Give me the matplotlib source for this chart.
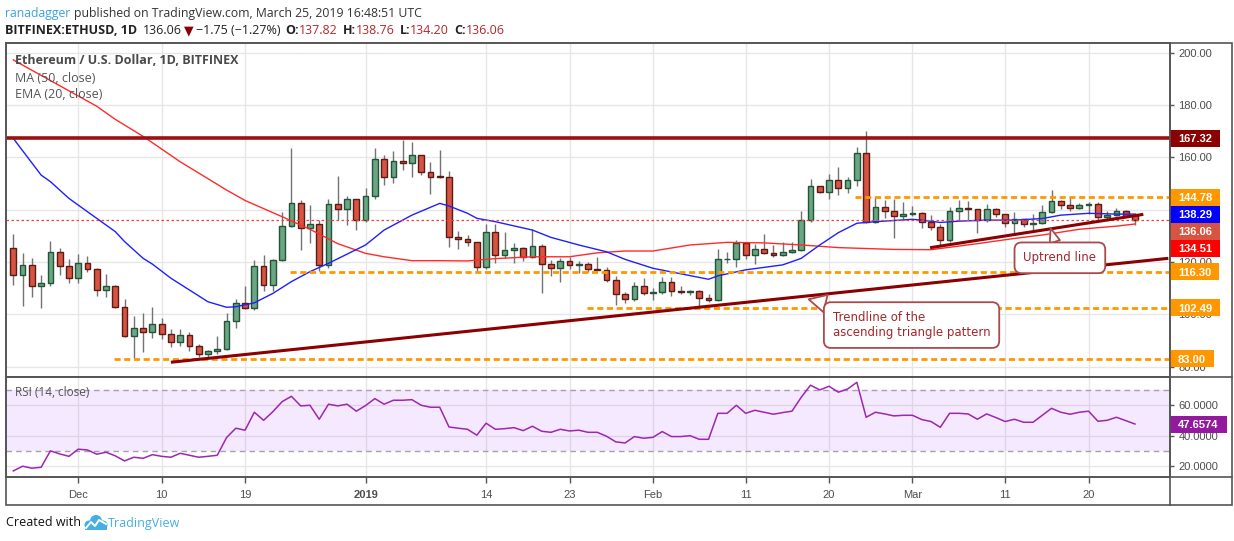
import numpy as np
import pandas as pd
import matplotlib
matplotlib.use("Agg")
import matplotlib.pyplot as plt
from matplotlib.patches import Rectangle, Circle
from matplotlib.transforms import IdentityTransform, offset_copy

plt.rcParams['font.family'] = ['Liberation Sans', 'DejaVu Sans']

# ---------------- data ----------------
start_date = "2018-11-24"
opens = [125.2, 114.9, 118.7, 110.7, 111.8, 124.0, 118.3, 113.8, 119.5, 117.2,
         109.2, 110.7, 102.7, 91.9, 94.7, 93.1, 96.2, 92.4, 89.3, 92.1,
         87.8, 85.0, 85.9, 86.7, 97.3, 104.2, 102.3, 118.3, 111.2, 120.6,
         133.6, 142.4, 132.9, 134.4, 118.7, 142.0, 140.1, 143.9, 135.9, 145.1,
         159.2, 152.3, 158.4, 157.9, 160.8, 154.5, 152.6, 152.4, 129.4, 128.7,
         127.5, 118.0, 131.3, 122.5, 124.5, 125.2, 121.8, 126.0, 119.1, 117.6,
         120.3, 118.7, 119.1, 117.2, 117.0, 113.2, 107.6, 105.8, 110.7, 108.3,
         108.7, 112.5, 108.8, 108.4, 108.8, 106.1, 105.6, 121.0, 121.3, 127.1,
         122.5, 124.8, 123.6, 122.5, 123.7, 124.5, 135.9, 148.9, 146.6, 151.2,
         148.1, 151.2, 161.5, 135.1, 141.1, 139.5, 137.7, 138.2, 138.6, 135.4,
         133.2, 128.4, 139.6, 140.5, 140.1, 136.0, 140.1, 138.2, 135.0, 136.3,
         134.4, 134.8, 139.0, 143.4, 141.6, 140.5, 141.6, 142.0, 137.1, 138.0,
         139.5, 137.82]
highs = [130.7, 123.3, 121.4, 115.0, 128.0, 125.3, 121.3, 122.9, 122.3, 117.8,
         115.4, 111.2, 105.9, 99.4, 100.7, 102.9, 98.6, 94.4, 94.4, 93.3,
         88.6, 86.3, 91.7, 100.7, 105.7, 110.8, 120.8, 122.7, 121.0, 139.1,
         163.6, 143.7, 141.8, 136.0, 144.1, 152.8, 145.2, 144.2, 148.3, 163.5,
         160.9, 162.4, 166.7, 165.8, 161.0, 158.2, 162.8, 154.8, 131.9, 130.3,
         127.6, 134.4, 134.4, 131.3, 127.1, 125.9, 132.6, 126.9, 120.6, 121.4,
         121.8, 120.3, 119.9, 121.8, 118.2, 114.8, 108.6, 112.2, 114.0, 110.2,
         114.1, 114.1, 110.9, 109.3, 109.3, 107.7, 124.8, 123.8, 128.4, 127.3,
         126.8, 130.7, 126.4, 127.5, 127.5, 139.5, 151.9, 149.1, 153.6, 156.3,
         152.4, 163.8, 170.0, 144.7, 143.7, 143.9, 142.9, 141.4, 139.2, 138.0,
         134.5, 140.9, 143.7, 143.3, 140.3, 142.2, 140.5, 138.4, 139.2, 136.5,
         138.3, 141.8, 147.5, 143.6, 144.7, 142.4, 143.0, 143.0, 139.6, 140.5,
         139.7, 138.76]
lows = [111.3, 103.3, 106.8, 102.5, 111.0, 115.0, 111.8, 111.8, 116.3, 107.1,
        106.5, 102.3, 91.5, 83.2, 85.7, 91.1, 90.6, 87.6, 87.8, 86.0,
        83.8, 83.5, 85.0, 86.5, 94.9, 102.0, 101.8, 109.0, 109.0, 120.3,
        133.3, 124.6, 127.4, 116.7, 117.6, 136.0, 134.3, 132.2, 135.1, 144.2,
        149.4, 150.0, 155.1, 152.6, 153.1, 146.0, 152.0, 125.9, 124.9, 126.1,
        116.3, 117.5, 119.5, 121.4, 119.7, 120.5, 121.6, 108.1, 114.8, 112.5,
        117.2, 115.9, 116.0, 116.9, 112.5, 103.5, 104.4, 105.0, 107.5, 105.5,
        107.7, 107.1, 107.7, 107.5, 102.9, 104.9, 105.2, 119.7, 118.2, 121.3,
        119.2, 122.9, 122.0, 122.2, 123.5, 124.3, 135.1, 146.2, 143.9, 145.5,
        146.2, 148.9, 134.9, 134.9, 136.7, 129.0, 136.0, 137.4, 132.9, 132.2,
        126.1, 127.8, 136.0, 136.0, 131.2, 135.4, 137.1, 133.5, 131.0, 133.5,
        132.0, 134.5, 138.8, 140.1, 139.6, 140.1, 138.3, 135.4, 136.0, 137.6,
        137.1, 134.20]
closes = [114.9, 118.7, 110.7, 111.8, 124.0, 118.3, 113.8, 119.5, 117.2, 109.2,
          110.7, 102.7, 91.9, 94.7, 93.1, 96.2, 92.4, 89.3, 92.1, 87.8,
          85.0, 85.9, 86.7, 97.3, 104.2, 102.3, 118.3, 111.2, 120.6, 133.6,
          142.4, 132.9, 134.4, 118.7, 142.0, 140.1, 143.9, 135.9, 145.1, 159.2,
          152.3, 158.4, 157.9, 160.8, 154.5, 152.6, 152.4, 129.4, 128.7, 127.5,
          118.0, 131.3, 122.5, 124.5, 125.2, 121.8, 126.0, 119.1, 117.6, 120.3,
          118.7, 119.1, 117.2, 117.0, 113.2, 107.6, 105.8, 110.7, 108.3, 108.7,
          112.5, 108.8, 108.4, 108.8, 106.1, 105.6, 121.0, 121.3, 127.1, 122.5,
          124.8, 123.6, 122.5, 123.7, 124.5, 135.9, 148.9, 146.6, 151.2, 148.1,
          151.2, 161.5, 135.1, 141.1, 139.5, 137.7, 138.2, 138.6, 135.4, 133.2,
          128.4, 139.6, 140.5, 140.1, 136.0, 140.1, 138.2, 135.0, 136.3, 134.4,
          134.8, 139.0, 143.4, 141.6, 140.5, 141.6, 142.0, 137.1, 138.0, 139.5,
          137.7, 136.06]

# EMA(20) and MA(50) read at sample candles (0-based candle index)
ema20_idx = [0, 3, 4, 6, 8, 11, 12, 14, 15, 17, 19, 21, 23, 24, 26, 28, 30, 32, 34,
             38, 40, 42, 43, 46, 47, 49, 50, 52, 56, 58, 61, 64, 66, 69, 75, 76, 79,
             83, 85, 87, 89, 91, 93, 97, 98, 100, 102, 105, 108, 111, 113, 116, 119, 121]
ema20_val = [167.2, 153.2, 150.7, 144.3, 139.2, 131.6, 127.8, 121.4, 119.2, 113.8,
             109.3, 104.8, 102.7, 102.9, 104.4, 108.0, 112.5, 116.3, 119.5, 126.5,
             132.2, 136.0, 137.9, 142.4, 141.4, 138.6, 136.7, 135.4, 132.2, 129.4,
             126.5, 123.9, 121.0, 117.6, 113.4, 114.7, 117.0, 118.9, 121.4, 126.5,
             131.2, 134.8, 135.4, 136.3, 136.0, 135.1, 135.6, 136.0, 136.0, 136.6,
             137.9, 138.6, 138.3, 138.29]
ma50_idx = [0, 9, 11, 14, 18, 23, 25, 29, 32, 35, 38, 40, 43, 46, 49, 52, 56, 60,
            63, 66, 69, 73, 77, 81, 85, 89, 95, 99, 104, 108, 111, 115, 119, 121]
ma50_val = [197.2, 179.5, 174.5, 168.0, 158.3, 147.5, 143.5, 137.3, 132.5, 127.0,
            123.3, 122.0, 120.5, 120.5, 120.4, 121.3, 122.0, 122.0, 123.5, 124.2,
            124.2, 126.5, 127.5, 127.3, 126.5, 125.5, 124.8, 124.7, 127.0, 129.0,
            130.3, 132.5, 133.7, 134.51]

rsi_values = [16.8, 19.9, 18.6, 19.2, 30.0, 28.0, 26.4, 31.1, 30.6, 27.8,
              29.1, 26.7, 23.4, 25.8, 25.1, 27.5, 26.4, 25.8, 28.4, 27.1,
              25.8, 26.4, 27.1, 38.7, 44.9, 43.6, 55.4, 50.1, 55.8, 62.4,
              65.9, 59.6, 60.0, 50.8, 60.7, 59.6, 60.7, 56.1, 59.8, 64.4,
              60.7, 63.3, 63.3, 63.7, 60.0, 58.7, 58.7, 45.7, 44.9, 44.2,
              40.3, 48.2, 44.2, 44.6, 45.3, 43.3, 46.2, 42.9, 42.2, 44.2,
              43.1, 43.6, 42.2, 42.2, 39.6, 35.9, 35.2, 39.4, 38.3, 38.9,
              42.7, 39.4, 39.4, 40.0, 37.6, 37.6, 54.7, 54.7, 60.0, 54.7,
              56.7, 55.4, 54.1, 55.2, 56.1, 65.3, 73.2, 70.1, 72.5, 68.6,
              70.7, 75.1, 52.1, 55.4, 54.3, 53.0, 53.4, 53.4, 50.6, 49.3,
              45.5, 54.7, 54.7, 54.3, 50.8, 54.3, 51.9, 49.3, 50.8, 48.8,
              48.8, 53.4, 58.0, 55.4, 54.1, 55.4, 56.1, 49.5, 50.1, 52.1,
              49.9, 47.6574]

resistance_level = 167.32
support_levels = [144.78, 116.30, 102.49, 83.00]
support_from_idx = [90.8, 29.8, 61.9, 10.9]

trend_idx = [17.0, 124.6]
trend_val = [81.7, 121.4]
uptrend_idx = [98.9, 121.9]
uptrend_val = [125.46, 138.2]

tick_dates = ["2018-12-01", "2018-12-10", "2018-12-19", "2019-01-01", "2019-01-14",
              "2019-01-23", "2019-02-01", "2019-02-11", "2019-02-20", "2019-03-01",
              "2019-03-11", "2019-03-20"]
tick_labels = ["Dec", "10", "19", "2019", "14", "23", "Feb", "11", "20", "Mar", "11", "20"]

# ---------------- figure layout ----------------
W, H = 1234, 541
fig = plt.figure(figsize=(W / 100, H / 100), dpi=100)
fig.patch.set_facecolor('white')

def fx(p):
    return p / W

def fy(p):
    return 1 - p / H

PL, PR = 6, 1170
ax = fig.add_axes([fx(PL), fy(377), fx(PR) - fx(PL), fy(43) - fy(377)])
axr = fig.add_axes([fx(PL), fy(477), fx(PR) - fx(PL), fy(377) - fy(477)], sharex=ax)

n = len(closes)
dates = pd.date_range(start_date, periods=n)
x = np.arange(n)
o = np.array(opens); h = np.array(highs); l = np.array(lows); c = np.array(closes)
up = c >= o
body_bot = np.minimum(o, c)
body_h = np.maximum(np.abs(c - o), 0.3)

UP_FC, UP_EC = '#6BA583', '#225437'
DN_FC, DN_EC = '#D75442', '#5B1A13'
WICK = '#737375'

ax.vlines(x, l, h, color=WICK, lw=1.0, zorder=3)
ax.bar(x[up], body_h[up], bottom=body_bot[up], width=0.62, color=UP_FC,
       edgecolor=UP_EC, linewidth=1.0, zorder=4)
ax.bar(x[~up], body_h[~up], bottom=body_bot[~up], width=0.62, color=DN_FC,
       edgecolor=DN_EC, linewidth=1.0, zorder=4)

ax.plot(ma50_idx, ma50_val, color='#FF2A2A', lw=1.0, zorder=5)
ax.plot(ema20_idx, ema20_val, color='#1F1FFF', lw=1.0, zorder=5)

XMIN, XMAX = -0.79, 124.78
# price line (last close)
ax.hlines(closes[-1], XMIN, XMAX, color='#E8473B', lw=0.9, linestyles=(0, (2, 2)), zorder=5)
# resistance
ax.hlines(resistance_level, XMIN, XMAX, color='#9B1111', lw=2.6, zorder=6)
# supports
for v, s in zip(support_levels, support_from_idx):
    ax.hlines(v, s, XMAX, color='#FF9800', lw=2.0, linestyles=(0, (2.2, 1.3)), zorder=6)
# trendlines
ax.plot(trend_idx, trend_val, color='#8B0000', lw=2.2, zorder=6, solid_capstyle='butt')
ax.plot(uptrend_idx, uptrend_val, color='#8B0000', lw=2.2, zorder=6, solid_capstyle='butt')

# callouts
CALL_EC = '#AA4A4C'
CALL_TC = '#A3262A'
ax.annotate("Uptrend line", xy=(111.9, 132.9), xytext=(112.9, 121.6), textcoords='data',
            ha='center', va='center', fontsize=8.5, color=CALL_TC, family='DejaVu Sans',
            bbox=dict(boxstyle='round,pad=0.75,rounding_size=0.6', fc='white', ec=CALL_EC, lw=1.3),
            arrowprops=dict(arrowstyle='wedge,tail_width=0.9,shrink_factor=0.5', fc='white',
                            ec=CALL_EC, lw=1.3, shrinkA=0, shrinkB=0),
            zorder=9, annotation_clip=False)
ax.annotate("Trendline of the\nascending triangle pattern", xy=(85.8, 105.75),
            xytext=(96.9, 95.9), textcoords='data', ha='center', va='center',
            multialignment='left', fontsize=8.5, color=CALL_TC, family='DejaVu Sans',
            bbox=dict(boxstyle='round,pad=0.75,rounding_size=0.6', fc='white', ec=CALL_EC, lw=1.3),
            arrowprops=dict(arrowstyle='wedge,tail_width=1.5,shrink_factor=0.5', fc='white',
                            ec=CALL_EC, lw=1.3, shrinkA=0, shrinkB=0),
            zorder=9, annotation_clip=False)

# legend text
legend_lines = [("Ethereum / U.S. Dollar, 1D, BITFINEX", 'bold', '#4A4A4A'),
                ("MA (50, close)", 'normal', '#555555'),
                ("EMA (20, close)", 'normal', '#555555')]
for i, (s, wt, col) in enumerate(legend_lines):
    ax.annotate(s, xy=(0, 1), xycoords='axes fraction', xytext=(9, -18 - 17 * i),
                textcoords='offset pixels', ha='left', va='center', fontsize=9,
                fontweight=wt, color=col, family=['Open Sans', 'DejaVu Sans'], zorder=10)

# axes styling
tick_pos = [(pd.Timestamp(d) - dates[0]).days for d in tick_dates]
ax.set_xlim(XMIN, XMAX)
ax.set_ylim(76.06, 203.67)
ax.set_yticks(np.arange(80, 201, 20))
ax.set_yticklabels([f"{v:.2f}" for v in np.arange(80, 201, 20)])
ax.yaxis.tick_right()
ax.tick_params(axis='y', length=3, width=1, color='#555555', labelsize=8,
               labelcolor='#4D4D4D', pad=3)
ax.tick_params(axis='x', length=0, labelbottom=False)
ax.set_xticks(tick_pos)
ax.grid(True, color='#E6E6E6', lw=1)
ax.set_axisbelow(True)
for sp in ax.spines.values():
    sp.set_color('#555555'); sp.set_linewidth(1.2)

# RSI pane
axr.axhspan(30, 70, color='#9915FF', alpha=0.09, lw=0, zorder=1)
axr.axhline(70, color='#A7A0AC', lw=1, ls=(0, (4, 3)), zorder=2)
axr.axhline(30, color='#A7A0AC', lw=1, ls=(0, (4, 3)), zorder=2)
axr.plot(x, rsi_values, color='#9C27B0', lw=1.1, zorder=4)
axr.set_ylim(12.8, 78.6)
axr.set_yticks([20, 40, 60])
axr.set_yticklabels(["20.0000", "40.0000", "60.0000"])
axr.yaxis.tick_right()
axr.tick_params(axis='y', length=3, width=1, color='#555555', labelsize=8,
                labelcolor='#4D4D4D', pad=3)
axr.set_xticks(tick_pos)
axr.set_xticklabels(tick_labels)
for t in axr.get_xticklabels():
    if t.get_text() == "2019":
        t.set_fontweight('bold')
axr.tick_params(axis='x', length=4, width=1, color='#555555', labelsize=8,
                labelcolor='#4D4D4D', pad=5)
axr.grid(True, color='#E6E6E6', lw=1, zorder=0)
axr.set_axisbelow(True)
for sp in axr.spines.values():
    sp.set_color('#555555'); sp.set_linewidth(1.2)
axr.annotate("RSI (14, close)", xy=(0, 1), xycoords='axes fraction', xytext=(9, -16),
             textcoords='offset pixels', ha='left', va='center', fontsize=8.5,
             color='#555555', family=['Open Sans', 'DejaVu Sans'], zorder=10)

# right-axis value labels (de-overlapped like the platform does)
ORANGE = '#FF9800'
main_labels = [(resistance_level, '#8B0000'), (support_levels[0], ORANGE),
               (ema20_val[-1], '#0000FF'), (closes[-1], DN_FC), (ma50_val[-1], '#FF0000'),
               (support_levels[1], ORANGE), (support_levels[2], ORANGE),
               (support_levels[3], ORANGE)]
main_labels.sort(key=lambda t: -t[0])
step = 17 / (334 / (203.67 - 76.06))
placed = []
prev = None
for v, col in main_labels:
    pos = v if prev is None else min(v, prev - step)
    placed.append((v, pos, col))
    prev = pos

label_texts = []
for v, pos, col in placed:
    tr = offset_copy(ax.get_yaxis_transform(), fig=fig, x=8, y=0, units='dots')
    t = ax.text(1.0, pos, f"{v:.2f}", transform=tr, ha='left', va='center_baseline',
                color='white', fontsize=8, fontweight='bold', zorder=31, clip_on=False)
    label_texts.append((ax, t, pos, col))
tr = offset_copy(axr.get_yaxis_transform(), fig=fig, x=8, y=0, units='dots')
t = axr.text(1.0, rsi_values[-1], f"{rsi_values[-1]:.4f}", transform=tr, ha='left',
             va='center_baseline', color='white', fontsize=8, fontweight='bold',
             zorder=31, clip_on=False)
label_texts.append((axr, t, rsi_values[-1], '#93199F'))

# overlay for header, footer and frame
axo = fig.add_axes([0, 0, 1, 1], zorder=10)
axo.set_xlim(0, W); axo.set_ylim(H, 0); axo.axis('off')
axo.patch.set_alpha(0)

HF = ['Open Sans', 'DejaVu Sans']

def chain(parts, x0, y0, size):
    prev_t = None
    for s, col, wt, gap in parts:
        if prev_t is None:
            prev_t = axo.text(x0, y0, s, color=col, fontweight=wt, fontsize=size,
                              family=HF, ha='left', va='center')
        else:
            prev_t = axo.annotate(s, xy=(1, 0.5), xycoords=prev_t, xytext=(gap, 0),
                                  textcoords='offset pixels', color=col, fontweight=wt,
                                  fontsize=size, family=HF, ha='left', va='center')

DARK = '#222222'
VAL = '#B0282C'
chain([("ranadagger", '#3BA3E0', 'normal', 0),
       ("published on TradingView.com, March 25, 2019 16:48:51 UTC", '#333333', 'normal', 3.5)],
      5, 13, 8.8)
chain([("BITFINEX:ETHUSD, 1D", DARK, 'bold', 0),
       ("136.06", DARK, 'normal', 6),
       ("▼", '#8B0000', 'normal', 2),
       ("−1.75 (−1.27%)", DARK, 'normal', 2),
       ("O:", DARK, 'bold', 5), ("137.82", VAL, 'normal', 0),
       ("H:", DARK, 'bold', 5), ("138.76", VAL, 'normal', 0),
       ("L:", DARK, 'bold', 5), ("134.20", VAL, 'normal', 0),
       ("C:", DARK, 'bold', 5), ("136.06", VAL, 'normal', 0)],
      5, 31, 9)

# frame
FRAME = '#555555'
axo.add_patch(Rectangle((6, 43), 1226, 462, fill=False, ec=FRAME, lw=1.2))
axo.plot([1170, 1170], [43, 505], color=FRAME, lw=1.2)
axo.plot([6, 1232], [377, 377], color=FRAME, lw=1.2)
axo.plot([6, 1232], [477, 477], color=FRAME, lw=1.2)

# footer
axo.text(6, 523, "Created with", color='#111111', fontsize=9, family=HF, ha='left', va='center')
LOGO = '#45AEE6'
for cx, cy, r in [(89, 525, 4.5), (96, 521, 6.0), (103, 525, 4.5)]:
    axo.add_patch(Circle((cx, cy), r, color=LOGO, lw=0))
axo.add_patch(Rectangle((85, 525), 22, 4.5, color=LOGO, lw=0))
axo.plot([86, 91, 95, 99, 106], [528, 522, 526, 520, 524], color='white', lw=1.4)
axo.text(108, 523, "TradingView", color=LOGO, fontsize=9, family=HF, ha='left', va='center')

# label boxes sized from rendered text
fig.canvas.draw()
for axis, t, pos, col in label_texts:
    bb = t.get_window_extent()
    yc = axis.get_yaxis_transform().transform((0, pos))[1]
    rect = Rectangle((bb.x0 - 8, yc - 8.5), bb.width + 16, 17, transform=IdentityTransform(),
                     facecolor=col, edgecolor='none', clip_on=False, zorder=30)
    axis.add_artist(rect)

fig.savefig("out.png", dpi=100)
